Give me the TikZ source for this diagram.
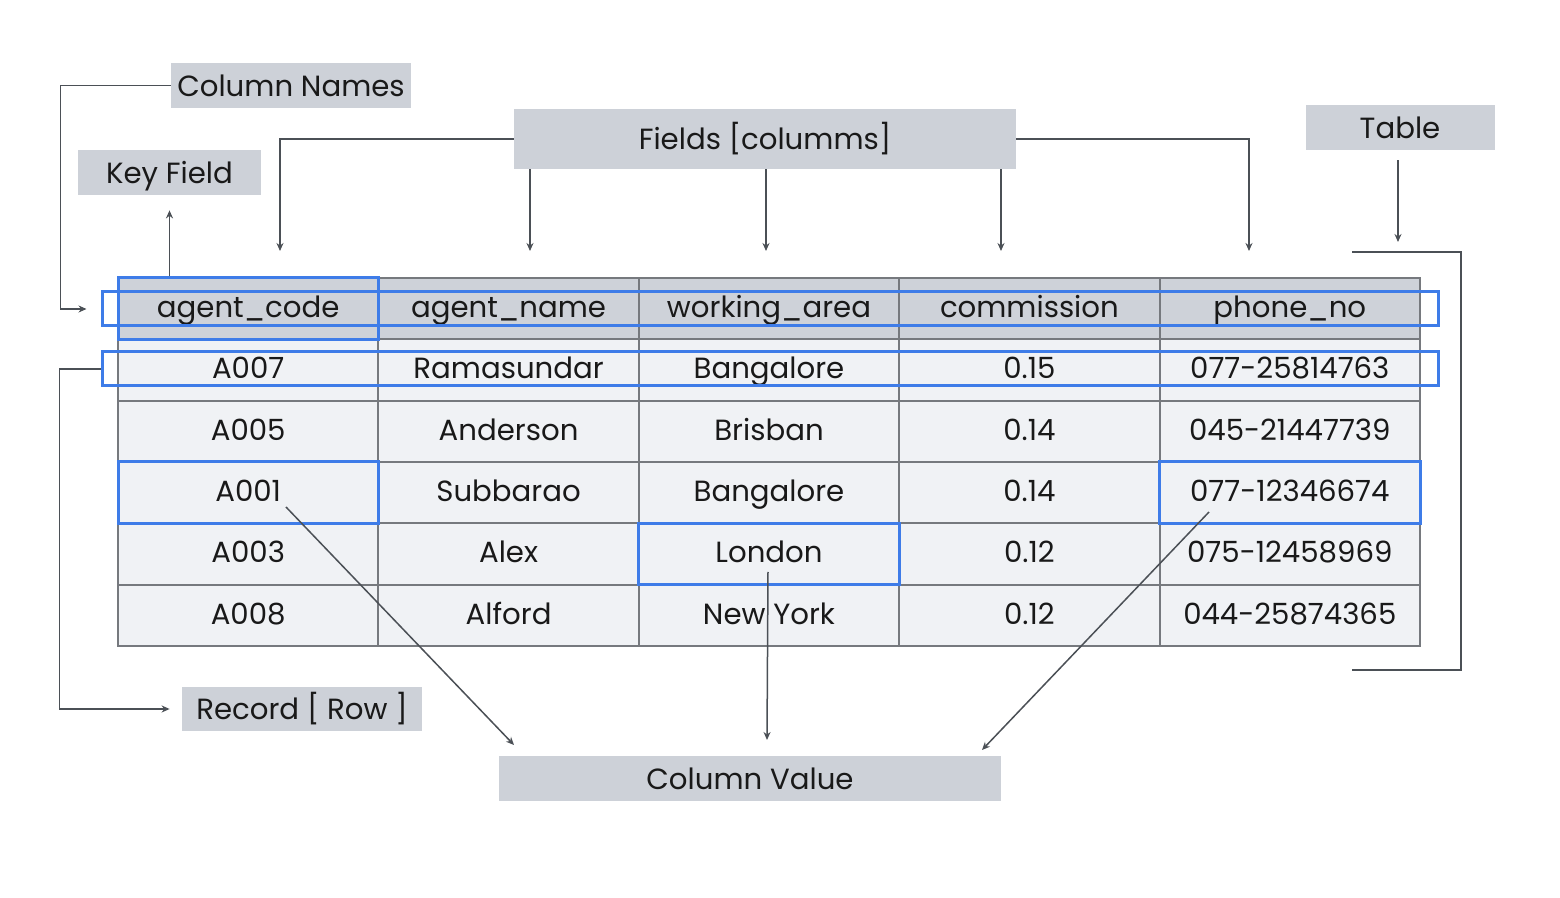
\documentclass[tikz,border=0pt]{standalone}
\usepackage{fontspec}
\setmainfont{Poppins}
\usetikzlibrary{arrows.meta,calc}
\definecolor{lblgray}{RGB}{205,209,216}
\definecolor{hdrgray}{RGB}{206,210,217}
\definecolor{cellbg}{RGB}{240,242,245}
\definecolor{gridc}{RGB}{118,121,126}
\definecolor{hlblue}{RGB}{62,124,232}
\definecolor{connc}{RGB}{75,80,86}
\definecolor{txt}{RGB}{25,25,25}
\begin{document}
\begin{tikzpicture}[x=0.5pt,y=-0.5pt,
  lbl/.style={fill=lblgray, inner sep=0pt, text=txt, font=\fontsize{14.6}{18}\selectfont, text height=10.6pt, text depth=0pt},
  cell/.style={draw=gridc, line width=1pt, minimum width=130.2pt, minimum height=30.67pt, inner sep=0pt, text=txt, font=\fontsize{14.6}{18}\selectfont, text height=10.4pt, text depth=1.7pt},
  hdr/.style={cell, fill=hdrgray},
  body/.style={cell, fill=cellbg},
  hl/.style={draw=hlblue, line width=1.5pt, inner sep=0pt},
  conn/.style={draw=connc, line width=0.75pt},
  arr/.style={conn, -{Stealth[length=4pt,width=3.5pt]}}
]
\useasboundingbox[fill=white] (0,0) rectangle (1560,898);

% labels
\node[lbl, minimum width=120pt, minimum height=22.5pt] (colnames) at (291,85.5) {Column Names};
\node[lbl, minimum width=251pt, minimum height=30pt] (fields) at (765,139) {Fields [columms]};
\node[lbl, minimum width=94.5pt, minimum height=22.5pt] (tablelbl) at (1400,127.5) {Table};
\node[lbl, minimum width=91.5pt, minimum height=22.5pt] (keyfield) at (169.5,172.5) {Key Field};
\node[lbl, minimum width=120pt, minimum height=22pt] (record) at (302,709) {Record [ Row ]};
\node[lbl, minimum width=251pt, minimum height=22.5pt] (colvalue) at (750,778.5) {Column Value};

% table
\foreach \t [count=\c from 0] in {agent\_code,agent\_name,working\_area,commission,phone\_no}
  \node[hdr] (c-0-\c) at (248.2+260.4*\c,308.67) {\t};
\foreach \a/\b/\cc/\d/\e [count=\r from 1] in {
  A007/Ramasundar/Bangalore/0.15/077-25814763,
  A005/Anderson/Brisban/0.14/045-21447739,
  A001/Subbarao/Bangalore/0.14/077-12346674,
  A003/Alex/London/0.12/075-12458969,
  A008/Alford/New York/0.12/044-25874365}{
  \node[body] (c-\r-0) at (248.2,308.67+61.33*\r) {\a};
  \node[body] (c-\r-1) at (508.6,308.67+61.33*\r) {\b};
  \node[body] (c-\r-2) at (769.0,308.67+61.33*\r) {\cc};
  \node[body] (c-\r-3) at (1029.4,308.67+61.33*\r) {\d};
  \node[body] (c-\r-4) at (1289.8,308.67+61.33*\r) {\e};
}

% highlights
\node[hl, minimum width=130.2pt, minimum height=30.67pt] (hlkey) at (c-0-0) {};
\node[hl, minimum width=668pt, minimum height=17pt] (hlhdr) at (770,309) {};
\node[hl, minimum width=668pt, minimum height=17pt] (hlrow) at (770,369) {};
\node[hl, minimum width=130.2pt, minimum height=30.67pt] (hla) at (c-3-0) {};
\node[hl, minimum width=130.2pt, minimum height=30.67pt] (hlp) at (c-3-4) {};
\node[hl, minimum width=130.2pt, minimum height=30.67pt] (hll) at (c-4-2) {};

% coordinates
\coordinate (fa1) at (280,251);
\coordinate (fa2) at (530,251);
\coordinate (fa3) at (766,251);
\coordinate (fa4) at (1001,251);
\coordinate (fa5) at (1249,251);
\coordinate (ta) at (1398,242);
\coordinate (s1) at (286,507);
\coordinate (e1) at (514,745);
\coordinate (s2) at (768,572);
\coordinate (e2) at (767,740);
\coordinate (s3) at (1209,512);
\coordinate (e3) at (982,750);

% connectors
\draw[arr, shorten >=7pt] (colnames.west) -- ++(-110,0) |- (hlhdr.west);
\draw[arr, shorten >=7.5pt] (keyfield.south |- hlkey.north) -- (keyfield.south);
\draw[arr] (fields.west) -| (fa1);
\draw[arr] (fields.east) -| (fa5);
\draw[arr] (fields.south -| fa2) -- (fa2);
\draw[arr] (fields.south -| fa3) -- (fa3);
\draw[arr] (fields.south -| fa4) -- (fa4);
\draw[arr, shorten <=5pt] (tablelbl.south -| ta) -- (ta);
\draw[conn] (1352,252) -- (1461,252) -- (1461,670) -- (1352,670);
\draw[arr, shorten >=6pt] (hlrow.west) -- ++(-41,0) |- (record.west);
\draw[arr] (s1) -- (e1);
\draw[arr] (s2) -- (e2);
\draw[arr] (s3) -- (e3);
\end{tikzpicture}
\end{document}
